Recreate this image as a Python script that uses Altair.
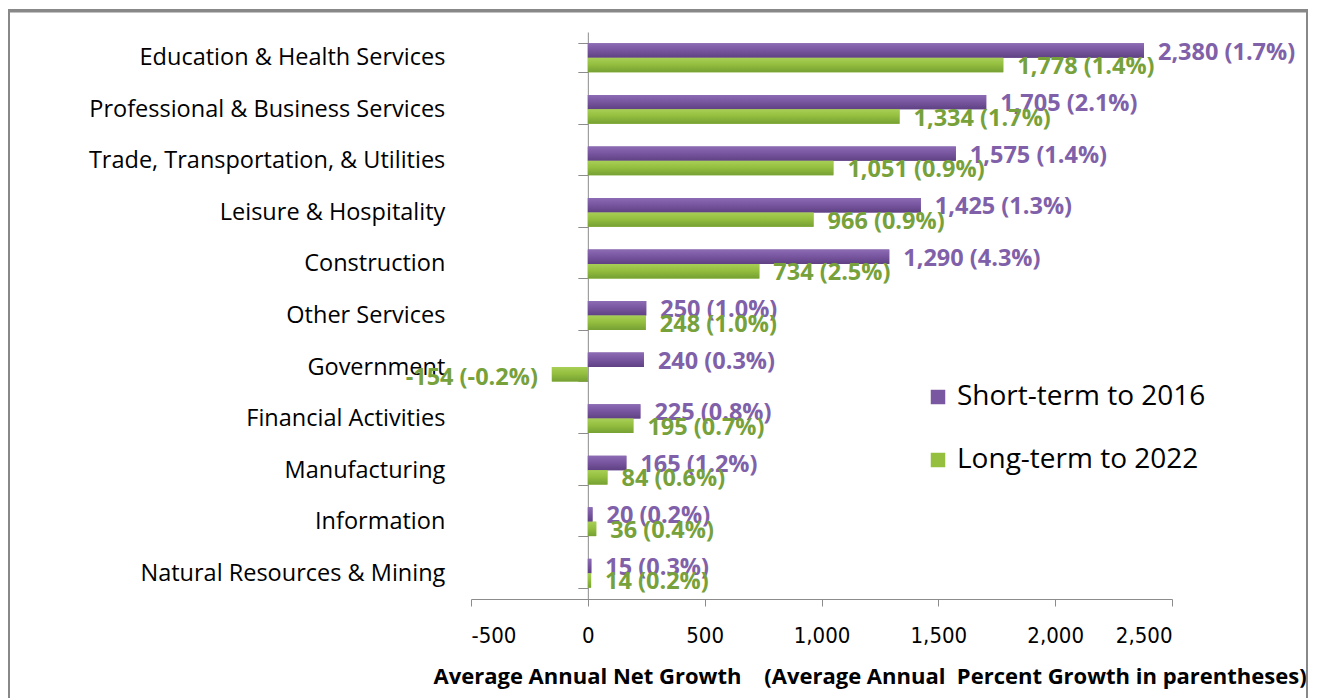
import altair as alt
import pandas as pd

categories = [
    "Education & Health Services",
    "Professional & Business Services",
    "Trade, Transportation, & Utilities",
    "Leisure & Hospitality",
    "Construction",
    "Other Services",
    "Government",
    "Financial Activities",
    "Manufacturing",
    "Information",
    "Natural Resources & Mining",
]
short_vals = [2380, 1705, 1575, 1425, 1290, 250, 240, 225, 165, 20, 15]
short_pct = [1.7, 2.1, 1.4, 1.3, 4.3, 1.0, 0.3, 0.8, 1.2, 0.2, 0.3]
long_vals = [1778, 1334, 1051, 966, 734, 248, -154, 195, 84, 36, 14]
long_pct = [1.4, 1.7, 0.9, 0.9, 2.5, 1.0, -0.2, 0.7, 0.6, 0.4, 0.2]
series_names = ["Short-term to 2016", "Long-term to 2022"]
x_ticks = [-500, 0, 500, 1000, 1500, 2000, 2500]
x_title = ("Average Annual Net Growth\u00a0\u00a0\u00a0 (Average Annual\u00a0 "
           "Percent Growth in parentheses)")

rows = []
for i, c in enumerate(categories):
    for s, vals, pcts in ((series_names[0], short_vals, short_pct),
                          (series_names[1], long_vals, long_pct)):
        v, p = vals[i], pcts[i]
        rows.append(dict(cat=c, series=s, value=v, label=f"{v:,} ({p:.1f}%)"))
df = pd.DataFrame(rows)

FONT = "Open Sans"
NARROW = "Liberation Sans Narrow, DejaVu Sans Condensed, Open Sans"
W, H = 701, 567
PURPLE, GREEN = "#7a57a1", "#94bf3f"
TPURPLE, TGREEN = "#8061a9", "#77a13a"
AXIS_GRAY = "#8c8c8c"

x_enc = alt.X(
    "value:Q",
    scale=alt.Scale(domain=[-500, 2500], nice=False),
    axis=alt.Axis(
        values=x_ticks, grid=False,
        labelExpr="datum.value < 0 ? '-' + format(-datum.value, ',d') : format(datum.value, ',d')",
        domainColor=AXIS_GRAY, tickColor=AXIS_GRAY, tickSize=7,
        labelFont=NARROW, labelFontSize=22, labelColor="#000", labelPadding=19,
        title=x_title, titleFont=FONT, titleFontWeight="bold", titleFontSize=22,
        titleColor="#000", titleAlign="left", titleAnchor="start",
        titleX=-38, titleY=77, titleBaseline="middle",
    ),
)
y_enc = alt.Y(
    "cat:N", sort=categories,
    scale=alt.Scale(paddingInner=0.44, paddingOuter=0.22),
    axis=alt.Axis(
        title=None, offset=-116.83, tickBand="extent", tickSize=10,
        domainColor=AXIS_GRAY, tickColor=AXIS_GRAY,
        labelPadding=133, labelFont=FONT, labelFontSize=23.5, labelColor="#000",
        labelLimit=600,
    ),
)
yoff = alt.YOffset("series:N", sort=series_names,
                   scale=alt.Scale(domain=series_names))

base = alt.Chart(df).encode(y=y_enc, x=x_enc, yOffset=yoff)

bars = base.mark_bar().encode(
    x2=alt.datum(0),
    color=alt.Color(
        "series:N", sort=series_names,
        scale=alt.Scale(domain=series_names, range=[PURPLE, GREEN]),
        legend=alt.Legend(
            title=None, orient="none", legendX=453, legendY=351,
            symbolType="square", symbolSize=210, symbolStrokeWidth=0,
            labelFont=FONT, labelFontSize=28, labelColor="#000", labelLimit=400,
            rowPadding=35, labelOffset=5,
        ),
    ),
)

grad_stops = {
    series_names[0]: ["#8c6cb4", "#7a57a1", "#5f4183"],
    series_names[1]: ["#a8cf56", "#94bf3f", "#76a033"],
}
grad_layers = []
for s in series_names:
    c = grad_stops[s]
    grad_layers.append(
        base.transform_filter(alt.datum.series == s).mark_bar(
            color=alt.Gradient(
                gradient="linear", x1=0, x2=0, y1=0, y2=1,
                stops=[alt.GradientStop(offset=0, color=c[0]),
                       alt.GradientStop(offset=0.45, color=c[1]),
                       alt.GradientStop(offset=1, color=c[2])],
            )
        ).encode(x2=alt.datum(0))
    )

fill_enc = alt.Fill("series:N", sort=series_names,
                    scale=alt.Scale(domain=series_names, range=[TPURPLE, TGREEN]),
                    legend=None)
pos_text = base.transform_filter("datum.value >= 0").mark_text(
    align="left", baseline="middle", dx=14, dy=2, font=FONT,
    fontWeight="bold", fontSize=23.5,
).encode(text="label:N", fill=fill_enc)
neg_text = base.transform_filter("datum.value < 0").mark_text(
    align="right", baseline="middle", dx=-14, dy=4, font=FONT,
    fontWeight="bold", fontSize=23.5,
).encode(text="label:N", fill=fill_enc)

frame = pd.DataFrame({"b": [0]})
border = alt.Chart(frame).mark_rect(
    fillOpacity=0, stroke="#888888", strokeWidth=2
).encode(x=alt.value(-462), x2=alt.value(836), y=alt.value(-22), y2=alt.value(720))
top_rule = alt.Chart(frame).mark_rule(
    stroke="#888888", strokeWidth=3
).encode(x=alt.value(-462), x2=alt.value(836), y=alt.value(-21))

chart = alt.layer(border, top_rule, bars, *grad_layers, pos_text, neg_text).properties(
    width=W, height=H, autosize="none",
    padding={"left": 463, "top": 24, "right": 137, "bottom": 120},
).configure_view(strokeWidth=0)

chart.save("out.html", embed_options={"renderer": "svg", "actions": False})
